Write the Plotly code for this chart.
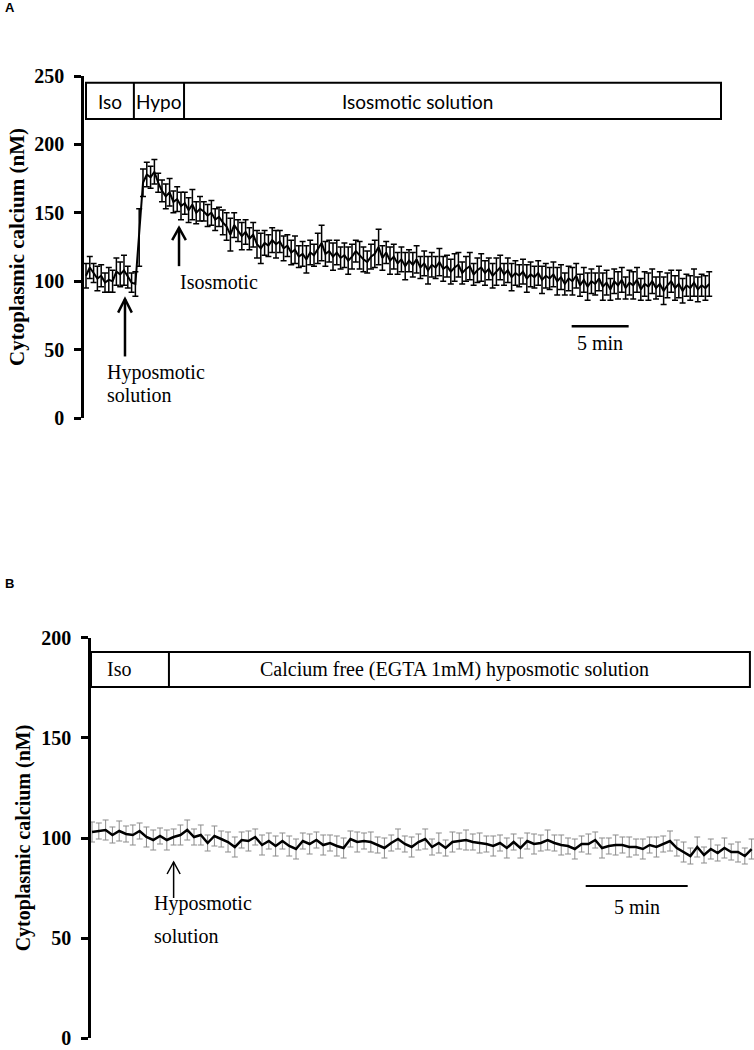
"""Cytoplasmic calcium traces under hyposmotic challenge (panels A and B)."""

import plotly.graph_objects as go

SAMPLE_MIN = 1 / 3  # one reading every 20 s

# Panel A: mean cytoplasmic calcium (nM) and SEM
calcium_a = [
    104, 110, 106, 102, 104, 99, 101, 100, 107, 105, 108, 103, 99, 98,
    132, 172, 178, 176, 180, 172, 166, 162, 165, 158, 160, 155, 157, 152,
    156, 150, 153, 151, 148, 150, 145, 147, 143, 140, 134, 141, 137, 133,
    136, 131, 134, 127, 124, 128, 126, 130, 127, 129, 124, 126, 121, 123,
    118, 120, 116, 121, 119, 124, 128, 120, 122, 118, 121, 117, 119, 115,
    118, 122, 119, 116, 114, 118, 120, 125, 117, 121, 115, 118, 113, 116,
    111, 115, 112, 116, 110, 113, 108, 112, 110, 114, 109, 111, 107, 110,
    112, 106, 109, 111, 105, 108, 110, 106, 109, 104, 107, 110, 105, 108,
    103, 106, 104, 107, 102, 105, 103, 106, 101, 104, 102, 105, 100, 103,
    98, 102, 100, 104, 97, 101, 96, 100, 98, 102, 96, 99, 94, 100,
    97, 101, 95, 99, 97, 101, 94, 98, 96, 100, 95, 98, 93, 97,
    100, 95, 98, 93, 97, 95, 99, 94, 97, 95, 98,
]
sem_a = [
    9, 8, 7, 9, 8, 7, 9, 8, 10, 9, 11, 8, 7, 9,
    21, 10, 9, 8, 9, 7, 8, 9, 10, 8, 9, 10, 8, 9,
    11, 8, 9, 7, 8, 9, 8, 7, 9, 10, 12, 9, 8, 10,
    9, 8, 9, 10, 11, 9, 8, 9, 10, 8, 9, 8, 9, 10,
    8, 9, 10, 9, 8, 11, 13, 9, 8, 10, 9, 8, 9, 10,
    9, 8, 10, 9, 8, 9, 10, 13, 9, 8, 10, 9, 8, 9,
    10, 8, 9, 10, 8, 9, 10, 9, 8, 10, 9, 8, 9, 10,
    9, 8, 9, 10, 8, 9, 10, 9, 8, 9, 10, 9, 8, 9,
    10, 9, 8, 9, 10, 9, 8, 9, 10, 9, 8, 9, 10, 9,
    8, 9, 10, 9, 8, 9, 10, 9, 8, 9, 10, 9, 8, 9,
    10, 9, 8, 9, 10, 9, 8, 9, 10, 9, 8, 9, 10, 9,
    8, 9, 10, 9, 8, 9, 10, 9, 8, 9, 9,
]

# Panel B: calcium-free (EGTA 1 mM) hyposmotic solution
calcium_b = [
    103, 103.5, 104, 101.5, 103.5, 102, 101.5, 103.5, 100.5, 99,
    101, 99, 100.5, 101.5, 104, 100.5, 101.5, 97.5, 101, 99.5,
    98, 95.5, 99, 98.5, 100.5, 96.5, 98.5, 96, 98.5, 96,
    94.5, 98.5, 97, 99, 96.5, 97.5, 96, 95, 99.5, 98,
    98.5, 98, 96.5, 95, 97.5, 99.5, 97, 95.5, 98, 99.5,
    95.5, 97.5, 95, 98, 98.5, 99, 98, 97.5, 97, 96,
    97.5, 95, 98, 95, 98.5, 97, 97.5, 99, 97.5, 96.5,
    96, 94.5, 97, 97, 99, 95, 96, 96.5, 96.5, 95.5,
    95.5, 94.5, 96.5, 95.5, 97, 98.5, 95, 93, 91, 95.5,
    91.5, 94.5, 92.5, 95, 93, 93, 91, 94.5,
]
sem_b = [
    5, 4, 5, 4, 5, 4, 5, 4, 5, 5,
    4, 5, 4, 5, 5, 4, 5, 4, 5, 4,
    5, 5, 4, 5, 4, 5, 4, 5, 4, 5,
    5, 4, 5, 4, 5, 4, 5, 5, 4, 5,
    4, 5, 4, 5, 4, 5, 4, 5, 4, 5,
    4, 5, 4, 5, 4, 5, 4, 5, 4, 5,
    4, 5, 4, 5, 4, 5, 4, 5, 4, 5,
    4, 5, 4, 5, 4, 5, 4, 5, 4, 5,
    4, 5, 4, 5, 4, 5, 4, 5, 4, 5,
    4, 5, 4, 5, 4, 5, 4, 5,
]

time_a = [round(i * SAMPLE_MIN, 3) for i in range(len(calcium_a))]
time_b = [round(i * SAMPLE_MIN, 3) for i in range(len(calcium_b))]

SERIF = "Liberation Serif, Times New Roman, serif"
SANS = "Lato, Liberation Sans, sans-serif"

fig = go.Figure()

fig.add_trace(
    go.Scatter(
        x=time_a, y=calcium_a, mode="lines",
        line={"color": "black", "width": 2},
        error_y={"type": "data", "array": sem_a, "color": "black",
                 "thickness": 1.5, "width": 3},
        xaxis="x", yaxis="y", showlegend=False,
    )
)
fig.add_trace(
    go.Scatter(
        x=time_b, y=calcium_b, mode="lines",
        line={"color": "black", "width": 2.5},
        error_y={"type": "data", "array": sem_b, "color": "#8c8c8c",
                 "thickness": 1, "width": 3},
        xaxis="x2", yaxis="y2", showlegend=False,
    )
)

axis_y = dict(
    showline=True, linecolor="black", linewidth=2.5,
    ticks="outside", ticklen=7, tickwidth=2.5, tickcolor="black",
    ticklabelstandoff=6, automargin=False, ticklabeloverflow="allow",
    showgrid=False, zeroline=False,
    tickfont={"family": SERIF, "size": 20, "color": "black", "weight": "bold"},
)

fig.update_layout(
    width=754, height=1050,
    margin={"l": 0, "r": 0, "t": 0, "b": 0},
    paper_bgcolor="white", plot_bgcolor="white",
    xaxis={"domain": [0.1114, 0.9576], "range": [-0.175, 55.79], "visible": False,
           "automargin": False},
    yaxis={
        **axis_y, "domain": [0.6019, 0.9276], "range": [0, 250], "dtick": 50,
        "title": {"text": "Cytoplasmic calcium (nM)", "standoff": 4,
                  "font": {"family": SERIF, "size": 21, "color": "black", "weight": "bold"}},
    },
    xaxis2={"domain": [0.1207, 1.0], "range": [-0.05, 32.45], "visible": False,
            "anchor": "y2", "automargin": False},
    yaxis2={
        **axis_y, "domain": [0.0114, 0.3924], "range": [0, 200], "dtick": 50,
        "anchor": "x2",
        "title": {"text": "Cytoplasmic calcium (nM)", "standoff": 6,
                  "font": {"family": SERIF, "size": 20, "color": "black", "weight": "bold"}},
    },
)

shapes = []
# solution boxes
box = {"type": "rect", "line": {"color": "black", "width": 2}, "fillcolor": "rgba(0,0,0,0)"}
shapes.append({**box, "xref": "x", "yref": "y", "x0": 0.0, "x1": 55.7, "y0": 218.5, "y1": 245})
shapes.append({**box, "xref": "x2", "yref": "y2", "x0": -0.05, "x1": 32.25, "y0": 175.5, "y1": 193})
for xv in (4.2, 8.6):
    shapes.append({"type": "line", "xref": "x", "yref": "y", "x0": xv, "x1": xv,
                   "y0": 218.5, "y1": 245, "line": {"color": "black", "width": 2}})
shapes.append({"type": "line", "xref": "x2", "yref": "y2", "x0": 3.77, "x1": 3.77,
               "y0": 175.5, "y1": 193, "line": {"color": "black", "width": 2}})


def arrow(xref, yref, x, y0, y1, hw, hh, width):
    """Vertical arrow with an open chevron head, drawn as two shapes."""
    return [
        {"type": "line", "xref": xref, "yref": yref, "x0": x, "x1": x, "y0": y0, "y1": y1,
         "line": {"color": "black", "width": width}},
        {"type": "path", "xref": xref, "yref": yref,
         "path": f"M {x - hw},{y1 - hh} L {x},{y1} L {x + hw},{y1 - hh}",
         "line": {"color": "black", "width": width}},
    ]


shapes += arrow("x", "y", 3.42, 45, 87, 0.6, 10, 2.5)
shapes += arrow("x", "y", 8.16, 111, 139, 0.6, 9, 2.5)
shapes += arrow("x2", "y2", 4.0, 70, 88, 0.32, 6, 1.5)

# scale bars
shapes.append({"type": "line", "xref": "x", "yref": "y", "x0": 42.6, "x1": 47.6,
               "y0": 67, "y1": 67, "line": {"color": "black", "width": 2.5}})
shapes.append({"type": "line", "xref": "x2", "yref": "y2", "x0": 24.2, "x1": 29.2,
               "y0": 76, "y1": 76, "line": {"color": "black", "width": 2}})

fig.update_layout(shapes=shapes)

serif_txt = {"family": SERIF, "size": 20, "color": "black"}
sans_txt = {"family": SANS, "size": 19, "color": "black"}
notes = [
    ("x", "y", 2.1, 231.7, "Iso", sans_txt, "center"),
    ("x", "y", 6.4, 231.7, "Hypo", sans_txt, "center"),
    ("x", "y", 29.1, 231.7, "Isosmotic solution", sans_txt, "center"),
    ("x", "y", 1.67, 33.6, "Hyposmotic", serif_txt, "left"),
    ("x", "y", 1.67, 16.8, "solution", serif_txt, "left"),
    ("x", "y", 8.07, 99.4, "Isosmotic", serif_txt, "left"),
    ("x", "y", 45.1, 55, "5 min", serif_txt, "center"),
    ("x2", "y2", 1.3, 184.25, "Iso", serif_txt, "center"),
    ("x2", "y2", 17.75, 184.25, "Calcium free (EGTA 1mM) hyposmotic solution", serif_txt, "center"),
    ("x2", "y2", 2.94, 67.5, "Hyposmotic", serif_txt, "left"),
    ("x2", "y2", 2.94, 51, "solution", serif_txt, "left"),
    ("x2", "y2", 26.7, 65.5, "5 min", serif_txt, "center"),
]
for xref, yref, x, y, text, font, anchor in notes:
    fig.add_annotation(xref=xref, yref=yref, x=x, y=y, text=text, showarrow=False,
                       font=font, xanchor=anchor, yanchor="middle")

panel_font = {"family": "Liberation Sans, Arial, sans-serif", "size": 13,
              "color": "black", "weight": "bold"}
fig.add_annotation(xref="paper", yref="paper", x=3 / 754, y=1 - 7 / 1050, text="A",
                   showarrow=False, font=panel_font, xanchor="left", yanchor="middle")
fig.add_annotation(xref="paper", yref="paper", x=3 / 754, y=1 - 583 / 1050, text="B",
                   showarrow=False, font=panel_font, xanchor="left", yanchor="middle")

# pin the graph to the top-left corner of the page so nothing offsets it
pin_js = (
    "document.body.style.margin='0';"
    "var gd=document.getElementById('{plot_id}');"
    "gd.style.position='fixed';gd.style.top='0px';gd.style.left='0px';"
)
fig.write_html("out.html", config={"displayModeBar": False}, post_script=pin_js)
